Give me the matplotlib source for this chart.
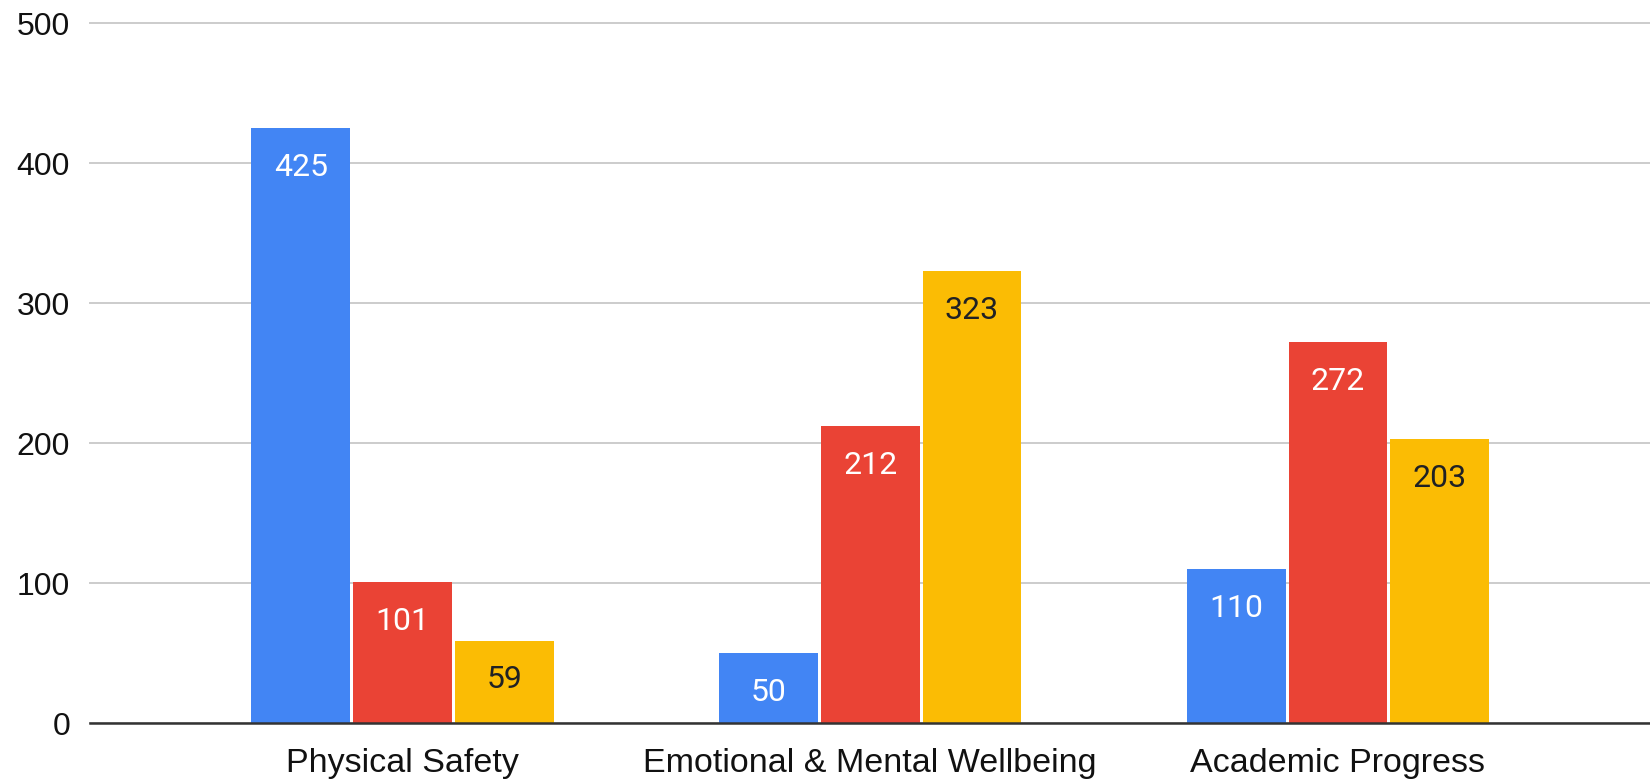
import numpy as np
import matplotlib.pyplot as plt

categories = ["Physical Safety", "Emotional & Mental Wellbeing", "Academic Progress"]
series_blue = [425, 50, 110]
series_red = [101, 212, 272]
series_yellow = [59, 323, 203]
y_ticks = [0, 100, 200, 300, 400, 500]

colors = ["#4285F4", "#EA4335", "#FBBC04"]
label_colors = ["white", "white", "#202124"]

fig = plt.figure(figsize=(16.5, 7.79), dpi=100)
ax = fig.add_axes([90 / 1650, 1 - 723.3 / 779, 1 - 90 / 1650, 700 / 779])

x = np.arange(len(categories))
width = 0.211
stride = 0.2175

for i, (vals, c, lc) in enumerate(zip([series_blue, series_red, series_yellow], colors, label_colors)):
    bars = ax.bar(x + (i - 1) * stride, vals, width, color=c, zorder=3)
    for b, v in zip(bars, vals):
        ax.annotate(str(v), (b.get_x() + b.get_width() / 2, v), xytext=(0, -34.3),
                    textcoords="offset points", ha="center", va="baseline",
                    color=lc, fontsize=23, family="Roboto", zorder=5)

ax.set_xlim(-0.668, 2.667)
ax.set_ylim(0, 500)
ax.set_yticks(y_ticks)
ax.set_xticks(x)
ax.set_xticklabels(categories)

for s in ax.spines.values():
    s.set_visible(False)
ax.axhline(0, color="#333333", lw=1.8, zorder=4, clip_on=False)

ax.yaxis.grid(True, color="#cccccc", lw=1.4)
ax.set_axisbelow(True)
for line in ax.get_ygridlines():
    line.set_clip_on(False)

ax.tick_params(axis="y", length=0, pad=14.4, labelsize=23, labelcolor="#111111")
ax.tick_params(axis="x", length=0, pad=18, labelsize=24.5, labelcolor="#111111")
for lbl in ax.get_xticklabels() + ax.get_yticklabels():
    lbl.set_family("Liberation Sans")

fig.savefig("out.png", dpi=100)
